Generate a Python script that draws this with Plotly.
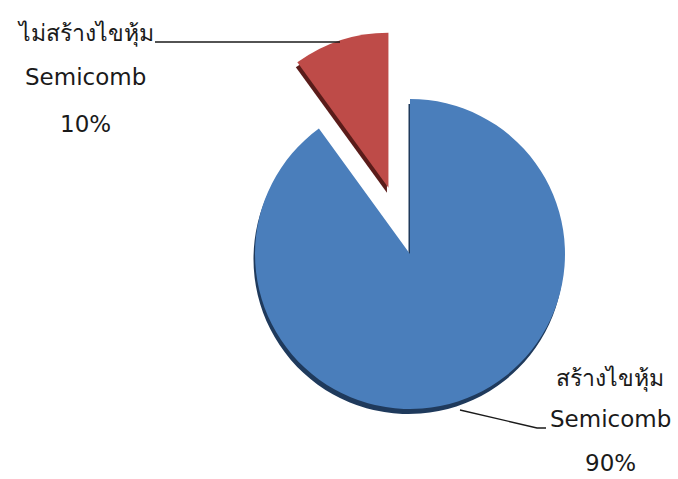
import math
import plotly.graph_objects as go

# Share of hives by semicomb building
labels_th = ["สร้างไขหุ้ม", "ไม่สร้างไขหุ้ม"]
labels_en = ["Semicomb", "Semicomb"]
values = [90, 10]
colors = ["#4A7EBB", "#BE4B48"]
shadow_colors = ["#1F3A5C", "#5A1C1A"]
pulls = [0, 0.45]

W, H = 678, 479
cx, cy, r = 410, 254, 155
shadow_dx, shadow_dy = -1.5, 5


def domain(x, y, half):
    return dict(x=[(x - half) / W, (x + half) / W],
                y=[(H - y - half) / H, (H - y + half) / H])


def pie(colors_, dom, pull=0, hover=True):
    return go.Pie(
        values=values, labels=labels_th, sort=False, direction="clockwise",
        rotation=0, pull=pull, textinfo="none",
        hoverinfo=None if hover else "skip",
        marker=dict(colors=colors_, line=dict(width=0)),
        domain=dom, showlegend=False,
    )


fig = go.Figure()

# dark underside giving the raised 3-D look: one unexploded pie per slice,
# each centred where that slice sits once exploded
total = sum(values)
start = 0.0
for i, v in enumerate(values):
    mid = start + v / total * 360 / 2          # clockwise from 12 o'clock
    start += v / total * 360
    ox = pulls[i] * r * math.sin(math.radians(mid))
    oy = -pulls[i] * r * math.cos(math.radians(mid))
    cols = ["rgba(0,0,0,0)"] * len(values)
    cols[i] = shadow_colors[i]
    fig.add_trace(pie(cols, domain(cx + ox + shadow_dx, cy + oy + shadow_dy, r),
                      hover=False))

# the exploded pie itself
fig.add_trace(pie(colors, domain(cx, cy, r * (1 + max(pulls))), pull=pulls))

pct = [f"{round(v / total * 100)}%" for v in values]

font = dict(family="Tahoma, 'DejaVu Sans', sans-serif", size=23, color="#1a1a1a")

# label blocks: (x centre, y centres of the three lines)
blocks = [
    (610, [378, 419, 463]),
    (85, [33, 77, 124]),
]
annotations = []
for i, (x, ys) in enumerate(blocks):
    for txt, y in zip([labels_th[i], labels_en[i], pct[i]], ys):
        annotations.append(dict(x=x, y=y, xref="x", yref="y", text=txt,
                                showarrow=False, font=font,
                                xanchor="center", yanchor="middle"))

shapes = [
    dict(type="path", xref="x", yref="y",
         path="M 460 410 L 537 428 L 546 428",
         line=dict(color="#1a1a1a", width=1.3)),
    dict(type="line", xref="x", yref="y", x0=155, y0=42, x1=340, y1=42,
         line=dict(color="#1a1a1a", width=1.3)),
]

fig.update_layout(
    width=W, height=H,
    margin=dict(l=0, r=0, t=0, b=0),
    paper_bgcolor="white", plot_bgcolor="rgba(0,0,0,0)",
    xaxis=dict(range=[0, W], visible=False, domain=[0, 1], fixedrange=True),
    yaxis=dict(range=[H, 0], visible=False, domain=[0, 1], fixedrange=True),
    annotations=annotations, shapes=shapes,
)

fig.write_html("out.html")
